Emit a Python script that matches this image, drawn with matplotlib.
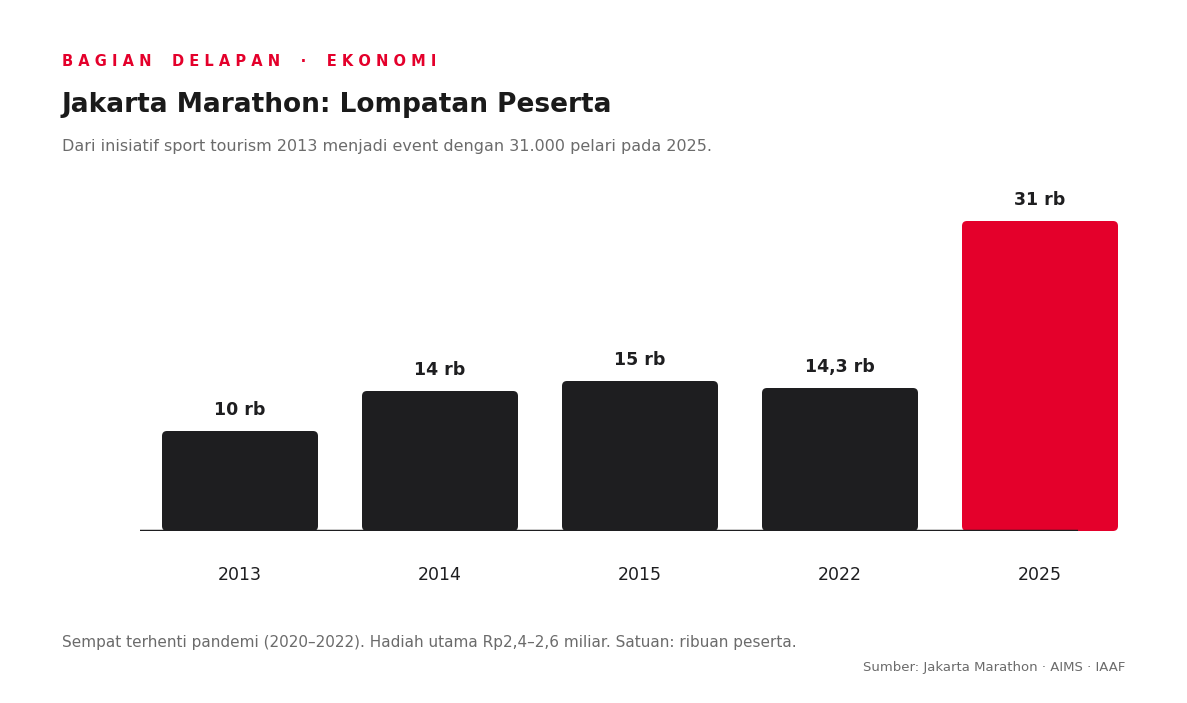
import matplotlib
matplotlib.use("Agg")
import matplotlib.pyplot as plt
from matplotlib.patches import FancyBboxPatch

years = ["2013", "2014", "2015", "2022", "2025"]
values = [10, 14, 15, 14.3, 31]
labels = ["10 rb", "14 rb", "15 rb", "14,3 rb", "31 rb"]
colors = ["#1e1e20", "#1e1e20", "#1e1e20", "#1e1e20", "#e4002b"]

W, H = 1187, 703
fig = plt.figure(figsize=(W/100, H/100), dpi=100)
fig.patch.set_facecolor("white")

def fx(px): return px / W
def fy(py): return 1 - py / H

ax_l, ax_r, ax_b, ax_t = 140, 1078, 531, 171
ax = fig.add_axes([fx(ax_l), fy(ax_b), fx(ax_r - ax_l), (ax_b - ax_t) / H])
ppu_y = 10.0
ax.set_xlim(-0.5, -0.5 + (ax_r - ax_l) / 200)
ax.set_ylim(0, (ax_b - ax_t) / ppu_y)
ax.axis("off")

bw = 156 / 200
for i, (v, c, lab) in enumerate(zip(values, colors, labels)):
    p = FancyBboxPatch((i - bw/2, 0), bw, v,
                       boxstyle="round,pad=0,rounding_size=0.025",
                       mutation_aspect=200/ppu_y, fc=c, ec="none", clip_on=False)
    ax.add_patch(p)
    ax.text(i, v + 1.2, lab, ha="center", va="bottom", fontsize=12.5,
            fontweight="bold", color="#1e1e20", clip_on=False)
    ax.text(i, -3.5, years[i], ha="center", va="top", fontsize=12.5,
            color="#1e1e20", clip_on=False)
ax.axhline(0, color="#1e1e20", lw=2.5, zorder=5)

fig.text(fx(62), fy(62), "B A G I A N    D E L A P A N    ·    E K O N O M I",
         color="#e4002b", fontsize=10.5, fontweight="bold", va="center")
fig.text(fx(62), fy(105), "Jakarta Marathon: Lompatan Peserta",
         color="#1a1a1a", fontsize=19, fontweight="bold", va="center")
fig.text(fx(62), fy(147), "Dari inisiatif sport tourism 2013 menjadi event dengan 31.000 pelari pada 2025.",
         color="#6b6b6b", fontsize=11.5, va="center")
fig.text(fx(62), fy(642), "Sempat terhenti pandemi (2020–2022). Hadiah utama Rp2,4–2,6 miliar. Satuan: ribuan peserta.",
         color="#6b6b6b", fontsize=11, va="center")
fig.text(fx(1125), fy(667), "Sumber: Jakarta Marathon · AIMS · IAAF",
         color="#6b6b6b", fontsize=9.5, va="center", ha="right")

fig.savefig("out.png", dpi=100, facecolor="white")
